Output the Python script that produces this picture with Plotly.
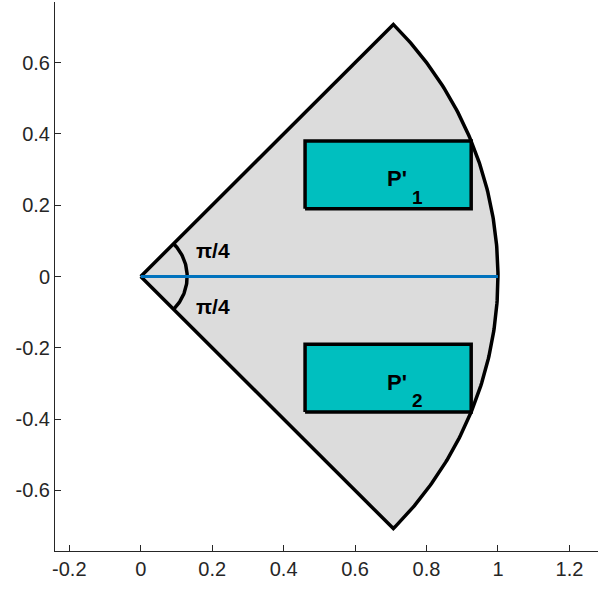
import numpy as np
import plotly.graph_objects as go

# ---- data ----
sector_radius = 1.0
sector_angles = [-np.pi / 4, np.pi / 4]
marker_arc_radius = 0.13
rect_x = [0.46, 0.925]
rect1_y = [0.19, 0.38]
rect2_y = [-0.38, -0.19]
axis_line_x = [0.0, 1.0]
axis_line_y = [0.0, 0.0]
x_ticks = [-0.2, 0, 0.2, 0.4, 0.6, 0.8, 1, 1.2]
x_ticklabels = ["-0.2", "0", "0.2", "0.4", "0.6", "0.8", "1", "1.2"]
y_ticks = [-0.6, -0.4, -0.2, 0, 0.2, 0.4, 0.6]
y_ticklabels = ["-0.6", "-0.4", "-0.2", "0", "0.2", "0.4", "0.6"]
main_labels = [("<b>P'</b>", 0.717, 0.274), ("<b>P'</b>", 0.717, -0.297)]
sub_labels = [("<b>1</b>", 0.775, 0.222), ("<b>2</b>", 0.775, -0.347)]
angle_labels = [("<b>π/4</b>", 0.203, 0.073), ("<b>π/4</b>", 0.203, -0.084)]

fig = go.Figure()

# sector
th = np.linspace(sector_angles[0], sector_angles[1], 200)
sx = np.concatenate([[0], sector_radius * np.cos(th), [0]])
sy = np.concatenate([[0], sector_radius * np.sin(th), [0]])
fig.add_trace(go.Scatter(x=sx, y=sy, mode="lines", fill="toself",
                         fillcolor="rgb(220,220,220)",
                         line=dict(color="black", width=3.5), hoverinfo="skip"))

# rectangles
for ry in (rect1_y, rect2_y):
    fig.add_trace(go.Scatter(
        x=[rect_x[0], rect_x[1], rect_x[1], rect_x[0], rect_x[0]],
        y=[ry[0], ry[0], ry[1], ry[1], ry[0]],
        mode="lines", fill="toself", fillcolor="rgb(0,191,191)",
        line=dict(color="black", width=3.5), hoverinfo="skip"))

# small angle arc
ta = np.linspace(sector_angles[0], sector_angles[1], 60)
fig.add_trace(go.Scatter(x=marker_arc_radius * np.cos(ta), y=marker_arc_radius * np.sin(ta),
                         mode="lines", line=dict(color="black", width=3.5), hoverinfo="skip"))

# axis line
fig.add_trace(go.Scatter(x=axis_line_x, y=axis_line_y, mode="lines",
                         line=dict(color="rgb(0,114,189)", width=3), hoverinfo="skip"))

for txt, x, y in main_labels:
    fig.add_annotation(x=x, y=y, text=txt, showarrow=False,
                       font=dict(family="Arial", size=22, color="black"))
for txt, x, y in sub_labels:
    fig.add_annotation(x=x, y=y, text=txt, showarrow=False,
                       font=dict(family="Arial", size=19, color="black"))
for txt, x, y in angle_labels:
    fig.add_annotation(x=x, y=y, text=txt, showarrow=False,
                       font=dict(family="Arial", size=21, color="black"))

axis_common = dict(showgrid=False, zeroline=False, showline=True, linecolor="rgb(38,38,38)",
                   linewidth=1, ticks="inside", ticklen=6, tickcolor="rgb(38,38,38)",
                   tickfont=dict(family="Arial", size=20, color="rgb(38,38,38)"))
fig.update_xaxes(range=[-0.24, 1.28], tickvals=x_ticks, ticktext=x_ticklabels, **axis_common)
fig.update_yaxes(range=[-0.77, 0.77], tickvals=y_ticks, ticktext=y_ticklabels, **axis_common)

fig.update_layout(width=598, height=591, margin=dict(l=55, r=0, t=2, b=40),
                  plot_bgcolor="white", paper_bgcolor="white", showlegend=False)

fig.write_html("out.html", config={"displayModeBar": False},
               post_script="document.body.style.margin='0';")
